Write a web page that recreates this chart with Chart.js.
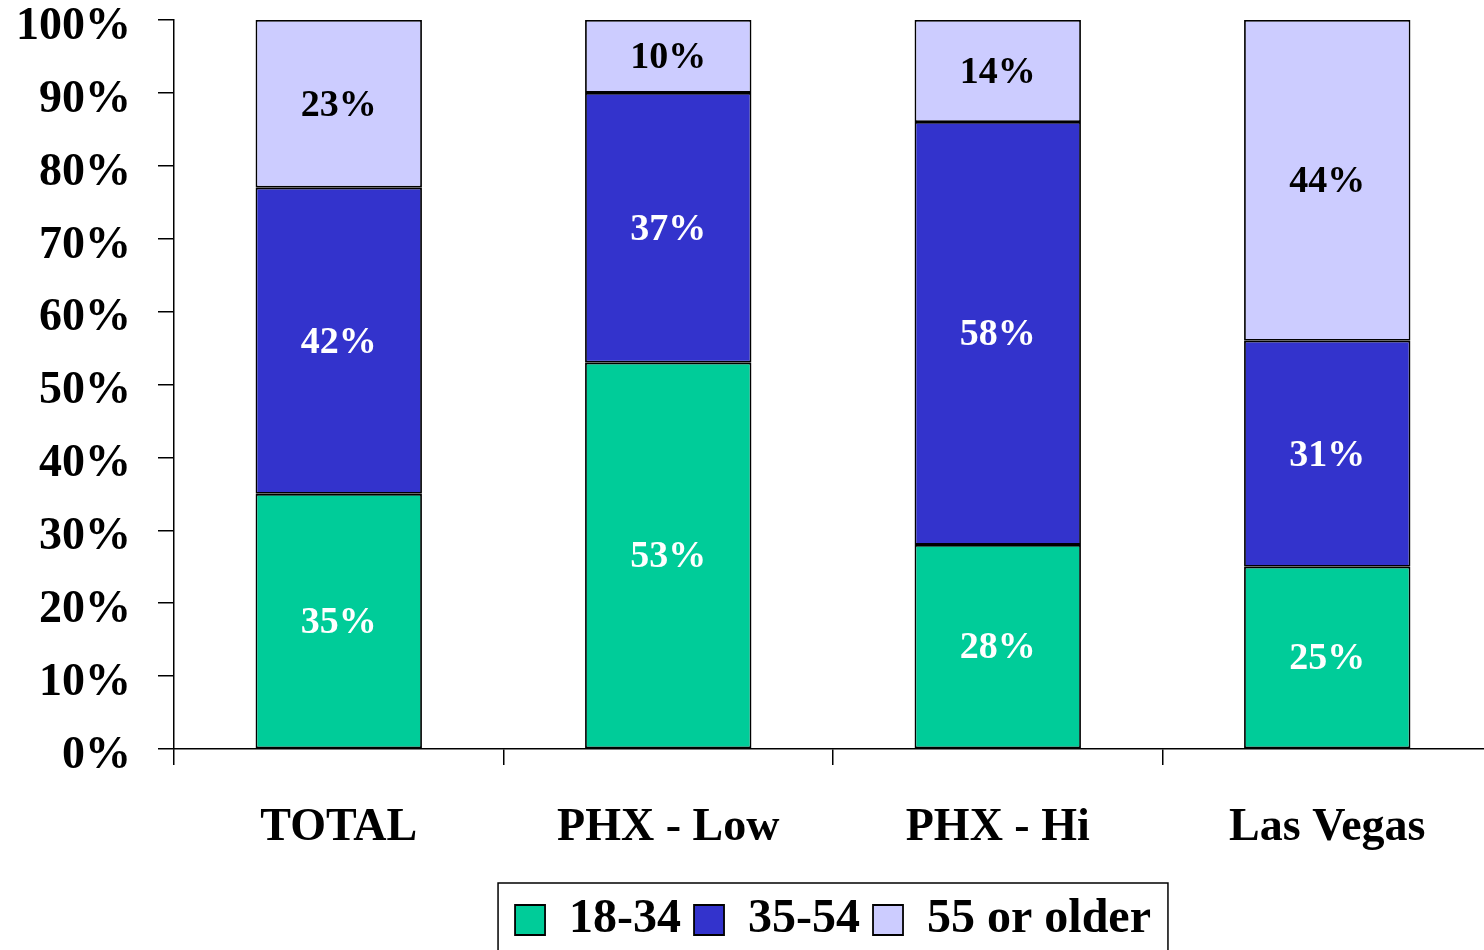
<!DOCTYPE html>
<html lang="en">
    <head>
        <meta charset="UTF-8">
        <title>Age groups by market</title>
        <script src="https://cdn.jsdelivr.net/npm/chart.js@4/dist/chart.umd.min.js"></script>
        <style>
            html, body {
                margin: 0;
                padding: 0;
                overflow: hidden;
                background: #fff;
            }
        </style>
    </head>
    <body>
        <canvas id="ageChart" width="1492" height="954"></canvas>
        <script>
            // values
            const markets = ["TOTAL", "PHX - Low", "PHX - Hi", "Las Vegas"];
            const age18to34 = [35, 53, 28, 25];
            const age35to54 = [42, 37, 58, 31];
            const age55plus = [23, 10, 14, 44];
            const yTicks = [0, 10, 20, 30, 40, 50, 60, 70, 80, 90, 100];

            const serif = "'Liberation Serif', 'Times New Roman', serif";

            const segmentLabels = {
                id: "segmentLabels",
                afterDatasetsDraw(chart) {
                    const ctx = chart.ctx;
                    ctx.save();
                    ctx.font = "bold 38px " + serif;
                    ctx.textAlign = "center";
                    ctx.textBaseline = "middle";
                    chart.data.datasets.forEach(function (ds, i) {
                        const meta = chart.getDatasetMeta(i);
                        ctx.fillStyle = ds.labelColor;
                        meta.data.forEach(function (bar, j) {
                            const y = (bar.y + bar.base) / 2;
                            ctx.fillText(ds.data[j] + "%", bar.x, y + 2);
                        });
                    });
                    ctx.restore();
                }
            };

            const legendFrame = {
                id: "legendFrame",
                afterDraw(chart) {
                    const lg = chart.legend;
                    if (!lg || !lg.legendHitBoxes.length) return;
                    const boxes = lg.legendHitBoxes;
                    const first = boxes[0];
                    const last = boxes[boxes.length - 1];
                    const left = first.left - 17;
                    const right = last.left + last.width + 17;
                    const ctx = chart.ctx;
                    ctx.save();
                    ctx.strokeStyle = "#000";
                    ctx.lineWidth = 1.5;
                    ctx.strokeRect(left, lg.top, right - left, chart.height + 20 - lg.top);
                    ctx.restore();
                }
            };

            const ctx = document.getElementById("ageChart").getContext("2d");
            new Chart(ctx, {
                type: "bar",
                data: {
                    labels: markets,
                    datasets: [
                        {
                            label: "18-34",
                            data: age18to34,
                            backgroundColor: "#00CC99",
                            labelColor: "#fff"
                        },
                        {
                            label: "35-54",
                            data: age35to54,
                            backgroundColor: "#3333CC",
                            labelColor: "#fff"
                        },
                        {
                            label: "55 or older",
                            data: age55plus,
                            backgroundColor: "#CCCCFF",
                            labelColor: "#000"
                        }
                    ]
                },
                options: {
                    responsive: false,
                    animation: false,
                    layout: {
                        padding: { top: 20, left: 0, right: 0, bottom: 0 }
                    },
                    datasets: {
                        bar: {
                            borderColor: "#000",
                            borderWidth: 1.8,
                            borderSkipped: false,
                            categoryPercentage: 1,
                            barPercentage: 0.505
                        }
                    },
                    scales: {
                        x: {
                            stacked: true,
                            offset: true,
                            border: { color: "#000", width: 1.5 },
                            grid: {
                                offset: true,
                                drawOnChartArea: false,
                                color: "#000",
                                lineWidth: 1.5,
                                tickLength: 16
                            },
                            ticks: {
                                color: "#000",
                                padding: 36,
                                maxRotation: 0,
                                font: { family: serif, size: 46, weight: "bold" }
                            },
                            afterFit(scale) {
                                scale.height = 134;
                            }
                        },
                        y: {
                            stacked: true,
                            min: 0,
                            max: 100,
                            border: { color: "#000", width: 1.5 },
                            grid: {
                                drawOnChartArea: false,
                                color: "#000",
                                lineWidth: 1.5,
                                tickLength: 16
                            },
                            afterBuildTicks(scale) {
                                scale.ticks = yTicks.map(function (v) { return { value: v }; });
                            },
                            ticks: {
                                color: "#000",
                                padding: 27,
                                labelOffset: 7,
                                font: { family: serif, size: 46, weight: "bold" },
                                callback: function (v) { return v + "%"; }
                            },
                            afterFit(scale) {
                                scale.width = 174;
                                scale.paddingTop = 0;
                                scale.paddingBottom = 0;
                            }
                        }
                    },
                    plugins: {
                        legend: {
                            position: "bottom",
                            fullSize: false,
                            labels: {
                                color: "#000",
                                boxWidth: 30,
                                boxHeight: 30,
                                padding: 13,
                                font: { family: serif, size: 48, weight: "bold" }
                            }
                        },
                        tooltip: { enabled: false }
                    }
                },
                plugins: [segmentLabels, legendFrame]
            });
        </script>
    </body>
</html>
